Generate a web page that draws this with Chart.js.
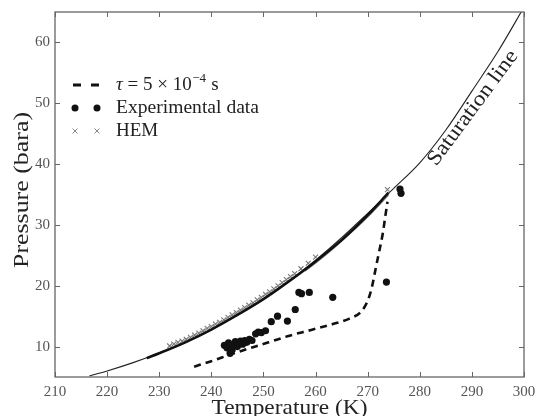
<!DOCTYPE html>
<html>
<head>
<meta charset="utf-8">
<script src="https://cdn.jsdelivr.net/npm/chart.js@4"></script>
<style>
html,body{margin:0;padding:0;background:#fff;}
#wrap{width:536px;height:416px;position:relative;}
</style>
</head>
<body>
<div id="wrap"><canvas id="c" width="536" height="416"></canvas></div>
<script>
// ---- data ----
const xTicks = [210, 220, 230, 240, 250, 260, 270, 280, 290, 300];
const yTicks = [10, 20, 30, 40, 50, 60];

// Saturation line (temperature K, pressure bara)
const satT = [216.6, 220, 225, 230, 235, 240, 245, 250, 255, 260, 265, 270, 275, 280, 285, 290, 295, 300];
const satP = [5.18, 5.99, 7.36, 8.93, 10.68, 12.83, 15.19, 17.85, 20.85, 24.19, 27.89, 31.9, 36.0, 40.2, 45.6, 52.0, 58.5, 65.8];

// HEM solution line (thick)
const hemLineT = [227.6, 230, 235, 240, 245, 250, 255, 260, 265, 270, 274.0];
const hemLineP = [8.1, 8.9, 10.7, 12.8, 15.2, 17.8, 20.8, 24.0, 27.5, 31.6, 35.3];
// second thin HEM line near the end
const hemLine2T = [258, 262, 266, 270, 274.0];
const hemLine2P = [22.4, 25.1, 28.1, 31.3, 34.9];

// HEM markers
const hemT = [232.0, 232.8, 233.6, 234.4, 235.2, 236.0, 236.8, 237.6, 238.4, 239.2, 240.0, 240.8, 241.6, 242.4, 243.2, 244.0, 244.8, 245.6, 246.4, 247.2, 248.0, 248.8, 249.6, 250.4, 251.2, 252.0, 252.8, 253.6, 254.4, 255.2, 256.0, 257.2, 258.6, 260.0, 273.8];
const hemP = [10.1, 10.4, 10.7, 10.9, 11.2, 11.5, 11.9, 12.2, 12.6, 13.0, 13.3, 13.7, 14.0, 14.4, 14.8, 15.2, 15.6, 16.0, 16.4, 16.8, 17.2, 17.7, 18.1, 18.6, 19.0, 19.5, 20.0, 20.5, 21.0, 21.5, 22.0, 22.8, 23.7, 24.7, 35.8];

// tau = 5e-4 s model (dashed)
const tauT = [236.7, 240, 244, 248, 251, 255, 259, 263.3, 266.5, 269.0, 270.3, 271.0, 271.6, 272.3, 272.9, 273.4, 273.8];
const tauP = [6.7, 7.6, 8.8, 9.9, 10.7, 11.8, 12.7, 13.7, 14.6, 16.0, 18.2, 20.5, 23.1, 26.0, 28.6, 31.5, 33.8];

// Experimental data
const expT = [242.5, 243.0, 243.3, 243.6, 244.0, 244.2, 244.6, 245.0, 245.3, 245.6, 246.0, 246.4, 246.8, 247.3, 247.8, 248.5, 249.0, 249.6, 250.4, 251.5, 252.7, 254.6, 256.1, 256.8, 257.3, 258.8, 263.3, 273.6, 276.2, 276.4];
const expP = [10.2, 9.8, 10.6, 8.9, 9.5, 10.3, 10.8, 10.0, 10.5, 10.9, 10.4, 11.0, 10.7, 11.2, 11.0, 12.1, 12.4, 12.3, 12.6, 14.1, 15.0, 14.2, 16.1, 18.9, 18.7, 18.9, 18.1, 20.6, 35.9, 35.2];

const legendLabels = ['Experimental data', 'HEM'];
const satLabel = 'Saturation line';
const xTitle = 'Temperature (K)';
const yTitle = 'Pressure (bara)';

const pts = (xs, ys) => xs.map((x, i) => ({x: x, y: ys[i]}));
const SERIF = '"Liberation Serif", "DejaVu Serif", serif';

// draw text stretched horizontally to a target width (still real text)
function fitText(ctx, text, x, y, width) {
  const w = ctx.measureText(text).width;
  const k = width / w;
  ctx.save();
  ctx.translate(x, y);
  ctx.scale(k, 1);
  ctx.fillText(text, 0, 0);
  ctx.restore();
}

const decor = {
  id: 'decor',
  afterDraw(chart) {
    const ctx = chart.ctx;
    const a = chart.chartArea;
    const xs = chart.scales.x, ys = chart.scales.y;
    ctx.save();
    // frame
    ctx.strokeStyle = '#666';
    ctx.lineWidth = 1.3;
    ctx.strokeRect(a.left, a.top, a.right - a.left, a.bottom - a.top);
    // inward ticks
    ctx.lineWidth = 1;
    ctx.beginPath();
    xTicks.forEach(v => {
      const p = Math.round(xs.getPixelForValue(v)) + 0.5;
      ctx.moveTo(p, a.bottom); ctx.lineTo(p, a.bottom - 5);
      ctx.moveTo(p, a.top); ctx.lineTo(p, a.top + 5);
    });
    yTicks.forEach(v => {
      const p = Math.round(ys.getPixelForValue(v)) + 0.5;
      ctx.moveTo(a.left, p); ctx.lineTo(a.left + 5, p);
      ctx.moveTo(a.right, p); ctx.lineTo(a.right - 5, p);
    });
    ctx.stroke();

    // axis titles
    ctx.fillStyle = '#222';
    ctx.font = '21px ' + SERIF;
    ctx.textAlign = 'center';
    ctx.textBaseline = 'alphabetic';
    fitText(ctx, xTitle, (a.left + a.right) / 2, 414, 156);
    ctx.save();
    ctx.translate(28, 190);
    ctx.rotate(-Math.PI / 2);
    fitText(ctx, yTitle, 0, 0, 156);
    ctx.restore();

    // saturation label
    ctx.save();
    ctx.translate(xs.getPixelForValue(290.2), ys.getPixelForValue(49.2));
    ctx.rotate(-53.5 * Math.PI / 180);
    ctx.font = '21px ' + SERIF;
    ctx.textBaseline = 'middle';
    fitText(ctx, satLabel, 0, 0, 138);
    ctx.restore();

    // legend
    const lx1 = a.left + 20, lx2 = a.left + 42, tx = a.left + 61;
    const r1 = a.top + 73, r2 = a.top + 96, r3 = a.top + 119;
    ctx.strokeStyle = '#111';
    ctx.lineWidth = 3;
    ctx.beginPath();
    ctx.moveTo(lx1 - 2, r1); ctx.lineTo(lx1 + 6, r1);
    ctx.moveTo(lx2 - 6, r1); ctx.lineTo(lx2 + 2, r1);
    ctx.stroke();
    ctx.fillStyle = '#111';
    [lx1, lx2].forEach(x => { ctx.beginPath(); ctx.arc(x, r2, 3.5, 0, Math.PI * 2); ctx.fill(); });
    ctx.strokeStyle = '#888';
    ctx.lineWidth = 1;
    ctx.beginPath();
    [lx1, lx2].forEach(x => {
      ctx.moveTo(x - 2.5, r3 - 2.5); ctx.lineTo(x + 2.5, r3 + 2.5);
      ctx.moveTo(x - 2.5, r3 + 2.5); ctx.lineTo(x + 2.5, r3 - 2.5);
    });
    ctx.stroke();
    ctx.fillStyle = '#222';
    ctx.textAlign = 'left';
    ctx.textBaseline = 'middle';
    // tau label
    let x = tx;
    ctx.font = 'italic 19px ' + SERIF;
    ctx.fillText('τ', x, r1); x += ctx.measureText('τ').width;
    ctx.font = '19px ' + SERIF;
    const s1 = ' = 5 × 10';
    ctx.fillText(s1, x, r1); x += ctx.measureText(s1).width;
    ctx.font = '13px ' + SERIF;
    ctx.fillText('−4', x + 0.5, r1 - 6); x += ctx.measureText('−4').width + 1;
    ctx.font = '19px ' + SERIF;
    ctx.fillText(' s', x, r1);
    fitText(ctx, legendLabels[0], tx, r2, 143);
    ctx.fillText(legendLabels[1], tx, r3);
    ctx.restore();
  }
};

new Chart(document.getElementById('c'), {
  type: 'scatter',
  data: {
    datasets: [
      { label: 'Experimental data', data: pts(expT, expP), showLine: false,
        pointStyle: 'circle', pointRadius: 3.6, backgroundColor: '#111', borderColor: '#111', borderWidth: 0 },
      { label: 'tau', data: pts(tauT, tauP), showLine: true, borderColor: '#111', borderWidth: 2.6,
        borderDash: [7, 5], pointRadius: 0, cubicInterpolationMode: 'monotone' },
      { label: 'HEM line', data: pts(hemLineT, hemLineP), showLine: true, borderColor: '#111', borderWidth: 2.6,
        pointRadius: 0, cubicInterpolationMode: 'monotone' },
      { label: 'HEM line 2', data: pts(hemLine2T, hemLine2P), showLine: true, borderColor: '#777', borderWidth: 1.2,
        pointRadius: 0, cubicInterpolationMode: 'monotone' },
      { label: 'HEM', data: pts(hemT, hemP), showLine: false, pointStyle: 'crossRot', pointRadius: 3.5,
        borderColor: '#777', borderWidth: 1.1 },
      { label: 'Saturation line', data: pts(satT, satP), showLine: true, borderColor: '#222', borderWidth: 1.1,
        pointRadius: 0, cubicInterpolationMode: 'monotone' }
    ]
  },
  options: {
    responsive: false,
    animation: false,
    layout: { padding: { top: 12, right: 12, left: 0, bottom: 0 } },
    plugins: { legend: { display: false }, tooltip: { enabled: false } },
    scales: {
      x: {
        type: 'linear', min: 210, max: 300,
        afterBuildTicks: s => { s.ticks = xTicks.map(v => ({ value: v })); },
        afterFit: s => { s.height = 39; s.paddingLeft = 0; s.paddingRight = 0; },
        grid: { display: false, drawTicks: false },
        border: { display: false },
        ticks: { padding: 6, color: '#555', font: { family: SERIF, size: 15 }, maxRotation: 0 }
      },
      y: {
        type: 'linear', min: 5, max: 65,
        afterBuildTicks: s => { s.ticks = yTicks.map(v => ({ value: v })); },
        afterFit: s => { s.width = 55; s.paddingTop = 0; s.paddingBottom = 0; },
        grid: { display: false, drawTicks: false },
        border: { display: false },
        ticks: { padding: 5, color: '#555', font: { family: SERIF, size: 15 } }
      }
    }
  },
  plugins: [decor]
});
</script>
</body>
</html>
